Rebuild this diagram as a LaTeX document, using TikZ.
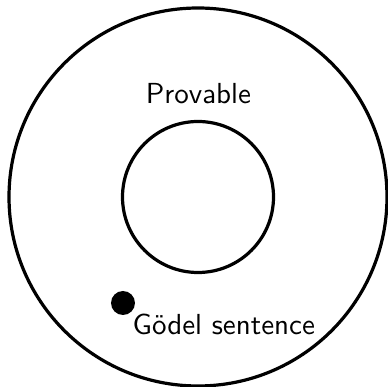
\documentclass[tikz,border=0pt]{standalone}
\usepackage{fontspec}
\newfontfamily\lmsten{lmsans10-regular.otf}
\begin{document}
\begin{tikzpicture}[x=1pt,y=1pt,
  ring/.style={draw=black,line width=3.2pt},
  lbl/.style={font=\lmsten\fontsize{29}{34}\selectfont,inner sep=0pt,anchor=base}]
\useasboundingbox (-198,-190) rectangle (190,197);
\node[ring,circle,minimum size=378pt,inner sep=0pt] (outer) at (0,0) {};
\node[ring,circle,minimum size=151pt,inner sep=0pt] (inner) at (0,0) {};
\node[lbl] (prov) at (0.5,93.7) {Provable};
\node[circle,fill=black,minimum size=24pt,inner sep=0pt] (dot) at (-75,-106) {};
\node[lbl] (godel) at (25.8,-138) {Gödel sentence};
\end{tikzpicture}
\end{document}
